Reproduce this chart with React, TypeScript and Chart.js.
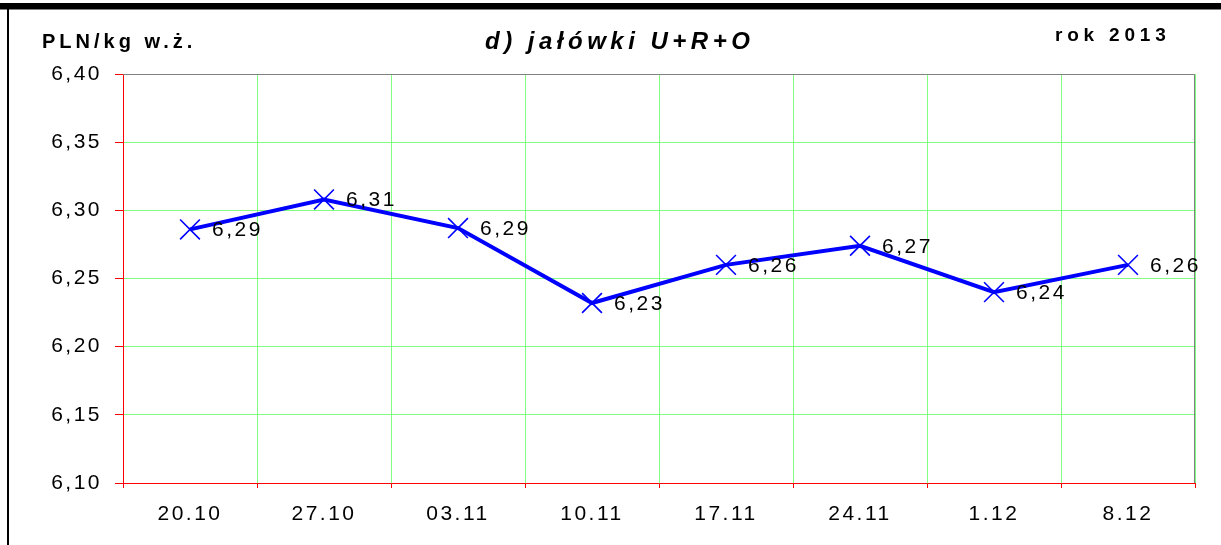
import React, { useEffect, useRef } from 'react';
import { Chart, registerables } from 'chart.js';

Chart.register(...registerables);

// ---- data ----
const categories = ['20.10', '27.10', '03.11', '10.11', '17.11', '24.11', '1.12', '8.12'];
const prices = [6.286, 6.308, 6.287, 6.232, 6.26, 6.274, 6.24, 6.26];
const yMin = 6.1;
const yMax = 6.4;
const yStep = 0.05;
const unitLabel = 'PLN/kg w.ż.';
const titleText = 'd) jałówki U+R+O';
const yearLabel = 'rok 2013';

const FONT = '"Liberation Sans", Arial, Helvetica, sans-serif';
const NUM_SPACING = '2.5px';
const NUM_SIZE = 21;
const GRID_GREEN = '#80ff80';
const AXIS_RED = '#ff0000';
const BORDER_GRAY = '#808080';
const fmt = (v: number) => Number(v).toFixed(2).replace('.', ',');

const decorPlugin = {
  id: 'decor',
  beforeUpdate(chart: any) {
    chart.ctx.letterSpacing = NUM_SPACING;
  },
  beforeDraw(chart: any) {
    const ctx = chart.ctx;
    ctx.letterSpacing = NUM_SPACING;
    ctx.save();
    ctx.fillStyle = '#ffffff';
    ctx.fillRect(0, 0, chart.width, chart.height);
    // frame
    ctx.fillStyle = '#000000';
    ctx.fillRect(0, 3, chart.width, 6);
    ctx.fillStyle = BORDER_GRAY;
    ctx.fillRect(0, 9, chart.width, 1);
    ctx.fillStyle = '#000000';
    ctx.fillRect(7, 9, 2, chart.height - 9);
    // header texts
    ctx.fillStyle = '#000000';
    ctx.textAlign = 'left';
    ctx.textBaseline = 'alphabetic';
    ctx.letterSpacing = '4px';
    ctx.font = `bold 20px ${FONT}`;
    ctx.fillText(unitLabel, 42, 48);
    ctx.letterSpacing = '4.5px';
    ctx.font = `italic bold 24px ${FONT}`;
    ctx.fillText(titleText, 485, 49);
    ctx.letterSpacing = '4.8px';
    ctx.font = `bold 19px ${FONT}`;
    ctx.fillText(yearLabel, 1055, 41);
    ctx.restore();
  },
  beforeDatasetsDraw(chart: any) {
    const ctx = chart.ctx;
    const a = chart.chartArea;
    ctx.save();
    ctx.strokeStyle = BORDER_GRAY;
    ctx.lineWidth = 1;
    ctx.beginPath();
    const top = Math.round(a.top) + 0.5;
    const right = Math.round(a.right) - 0.5;
    ctx.moveTo(Math.round(a.left), top);
    ctx.lineTo(right, top);
    ctx.lineTo(right, Math.round(a.bottom));
    ctx.stroke();
    ctx.restore();
  },
  afterDatasetsDraw(chart: any) {
    const ctx = chart.ctx;
    const meta = chart.getDatasetMeta(0);
    ctx.save();
    ctx.letterSpacing = NUM_SPACING;
    ctx.font = `${NUM_SIZE}px ${FONT}`;
    ctx.fillStyle = '#000000';
    ctx.textAlign = 'left';
    ctx.textBaseline = 'middle';
    meta.data.forEach((pt: any, i: number) => {
      ctx.fillText(fmt(prices[i]), pt.x + 22, pt.y + 1);
    });
    ctx.restore();
  },
};

export default function App() {
  const ref = useRef<HTMLCanvasElement>(null);

  useEffect(() => {
    if (!ref.current) return;
    const chart = new Chart(ref.current, {
      type: 'line',
      data: {
        labels: categories,
        datasets: [
          {
            data: prices,
            borderColor: '#0000ff',
            borderWidth: 4,
            pointStyle: 'crossRot',
            pointRadius: 14,
            pointBorderWidth: 1.6,
            pointBorderColor: '#0000ff',
            pointBackgroundColor: '#0000ff',
            tension: 0,
            fill: false,
          },
        ],
      },
      options: {
        animation: false,
        responsive: false,
        devicePixelRatio: 1,
        events: [],
        layout: { padding: { left: 0, top: 74, right: 26, bottom: 0 } },
        plugins: {
          legend: { display: false },
          tooltip: { enabled: false },
          title: { display: false },
        },
        scales: {
          x: {
            offset: true,
            grid: {
              offset: true,
              color: GRID_GREEN,
              tickColor: AXIS_RED,
              tickLength: 5,
              lineWidth: 1,
            },
            border: { color: AXIS_RED, width: 1 },
            ticks: {
              color: '#000000',
              font: { family: FONT, size: NUM_SIZE },
              padding: 14,
              maxRotation: 0,
              autoSkip: false,
            },
            afterFit: (s: any) => {
              s.height = 62;
            },
          },
          y: {
            min: yMin,
            max: yMax,
            grid: {
              color: GRID_GREEN,
              tickColor: AXIS_RED,
              tickLength: 8,
              lineWidth: 1,
            },
            border: { color: AXIS_RED, width: 1 },
            ticks: {
              stepSize: yStep,
              callback: (v: any) => fmt(v),
              color: '#000000',
              font: { family: FONT, size: NUM_SIZE },
              padding: 13,
            },
            afterFit: (s: any) => {
              s.width = 123;
            },
          },
        },
      },
      plugins: [decorPlugin],
    } as any);
    return () => chart.destroy();
  }, []);

  return (
    <div style={{ position: 'absolute', left: 0, top: 0, width: 1221, height: 545, background: '#ffffff' }}>
      <canvas ref={ref} width={1221} height={545} style={{ display: 'block', width: 1221, height: 545 }} />
    </div>
  );
}
